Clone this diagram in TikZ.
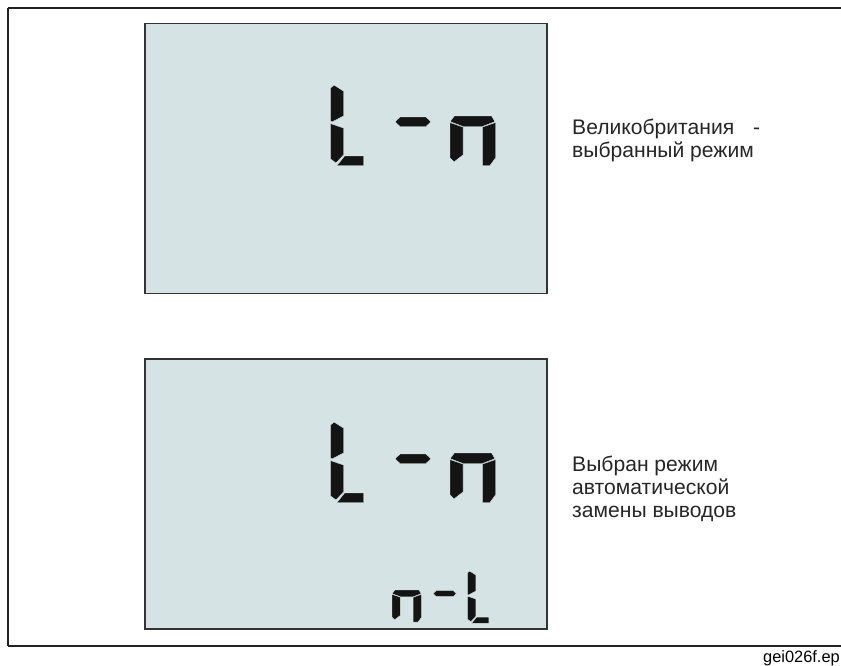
\documentclass[tikz,border=0pt]{standalone}
\usepackage{fontspec}
\setmainfont{Liberation Sans}
\usetikzlibrary{positioning}

\definecolor{lcdfill}{RGB}{214,227,228}
\definecolor{framegray}{RGB}{34,34,34}

% seven-segment glyphs, drawn in their own cell (pixel units, y downwards)
\tikzset{
    pics/segL/.style={code={
        \path[seg] (0.5,3) -- (4,0) -- (13.5,6) -- (13.5,31) -- (2,37) -- (0.5,36) -- cycle;
        \path[seg] (0.5,38.5) -- (13.5,43) -- (13.5,70) -- (6,78) -- (0.5,74) -- cycle;
        \path[seg] (7,80.5) -- (14.5,71) -- (33.5,71) -- (33.5,80.5) -- cycle;
    }},
    pics/segdash/.style={code={
        \path[seg] (0,4.75) -- (5,0) -- (31,0) -- (36,4.75) -- (31,9.5) -- (5,9.5) -- cycle;
    }},
    pics/segn/.style={code={
        \path[seg] (4.3,0) -- (41.7,0) -- (45,5.7) -- (32.5,10.5) -- (13,10.5) -- (0,5.7) -- cycle;
        \path[seg] (0,6.5) -- (13,11) -- (13,39) -- (4,46) -- (0,42) -- cycle;
        \path[seg] (45.5,6.5) -- (32.5,11) -- (32.5,49.5) -- (40,49.5) -- (45.5,42) -- cycle;
    }}
}

\begin{document}
\begin{tikzpicture}[
    x=0.03cm, y=-0.03cm,
    outerline/.style={draw=framegray, line width=1.7pt, line cap=butt},
    lcd/.style={draw=black!80, line width=1.6pt, fill=lcdfill, minimum width=12.06cm, minimum height=8.1cm, inner sep=0pt},
    seg/.style={fill=black!92, draw=lcdfill, line width=0.4pt},
    note/.style={anchor=base west, align=left, inner sep=0pt, font=\fontsize{18}{19.6}\selectfont, text=black!85},
    tag/.style={anchor=base east, inner sep=0pt, font=\fontsize{14}{16}\selectfont}
]
    \useasboundingbox (0,0) rectangle (841,665);

    % outer frame, open on the right
    \coordinate (ftl) at (8,8);
    \coordinate (fbl) at (8,646);
    \coordinate (ftr) at (841,8);
    \coordinate (fbr) at (841,646);
    \draw[outerline] (ftl) -- (ftr);
    \draw[outerline] (ftl) -- (fbl);
    \draw[outerline] (fbl) -- (fbr);

    % LCD windows
    \node[lcd] (upperlcd) at (346,158.5) {};
    \node[lcd] (lowerlcd) at (346,494) {};

    % upper display: L-n
    \pic at (330,85) {segL};
    \pic at (395,117) {segdash};
    \pic at (450,116) {segn};

    % lower display: L-n and small n-L
    \pic at (330,422) {segL};
    \pic at (395,454) {segdash};
    \pic at (450,453) {segn};
    \pic[scale=0.65] at (392,590) {segn};
    \pic[scale=0.65] at (433,590.5) {segdash};
    \pic[scale=0.65] at (467,571) {segL};

    % captions (anchored at the last baseline)
    \node[note] (ukmode) at (572,157) {Великобритания\hspace{0.9em}-\\выбранный режим};
    \node[note] (automode) at (572,517) {Выбран режим\\автоматической\\замены выводов};
    \node[tag] (fileid) at (840,662) {gei026f.ep};

\end{tikzpicture}
\end{document}
